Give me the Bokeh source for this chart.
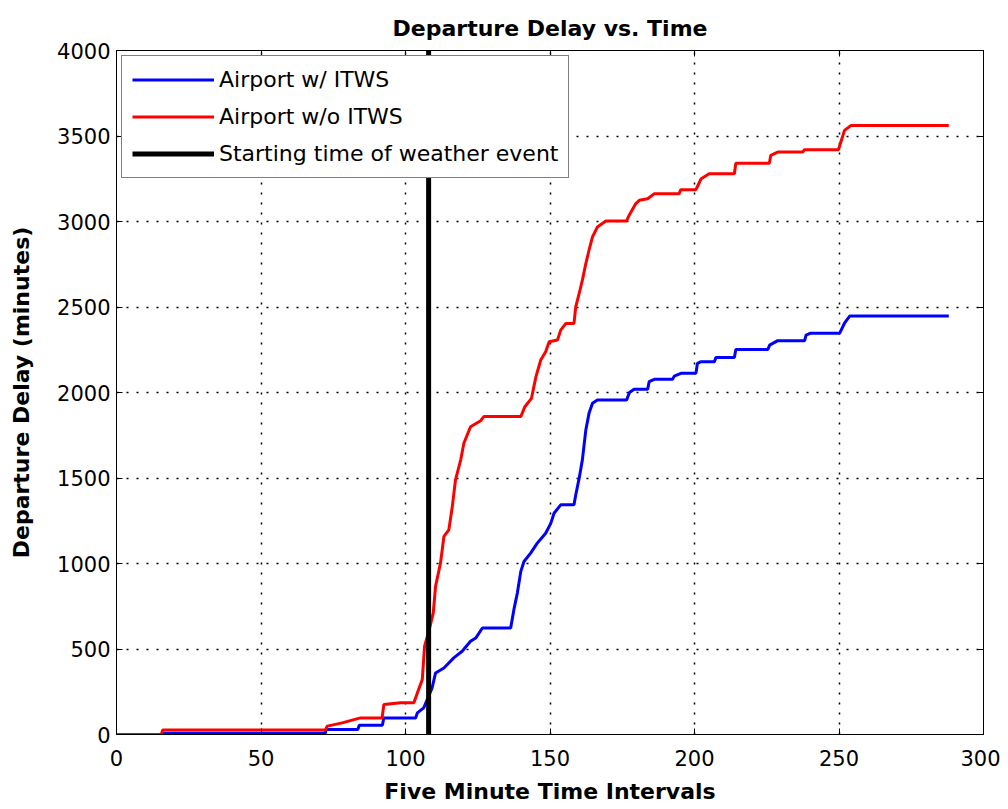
from bokeh.plotting import figure
from bokeh.models import LinearAxis, Range1d, FixedTicker, Legend, LegendItem, Title
from bokeh.embed import file_html
from bokeh.resources import INLINE

# ---- data ----
blue_t = [0, 16, 16.5, 72.3, 72.5, 83.5, 84, 92, 92.5, 103.5, 104.1, 106.3, 107.5,
          109.2, 110.4, 113.3, 116.7, 119.6, 122.5, 124.3, 126.6, 136.4, 137.5, 138.7,
          139.9, 141, 143.3, 145.6, 148.5, 150.3, 151.4, 153.7, 158.3, 158.9, 160.1,
          161.2, 162.4, 163.5, 164.7, 166.4, 176.5, 177.5, 179.1, 183.8, 184.3, 186.1,
          192.4, 193, 195.3, 200.5, 201, 202.3, 206.9, 207.4, 213.8, 214.3, 225.4, 226,
          228.8, 238.1, 238.6, 240, 250.2, 251.9, 253.7, 288]
blue_v = [0, 0, 8, 8, 29, 29, 54, 54, 97, 97, 126, 156, 204,
          272, 360, 389, 448, 487, 545, 564, 623, 623, 730, 827,
          954, 1012, 1061, 1119, 1177, 1236, 1294, 1343, 1343, 1401, 1499,
          1606, 1781, 1878, 1937, 1956, 1956, 2000, 2019, 2019, 2063, 2077,
          2077, 2096, 2112, 2112, 2170, 2180, 2180, 2205, 2205, 2252, 2252, 2277,
          2303, 2303, 2335, 2346, 2346, 2405, 2447, 2447]

red_t = [0, 15.5, 16, 72.3, 72.9, 78.1, 84.4, 91.9, 92.5, 98.3, 102.9, 104.1, 105.8,
         106.6, 108, 109.6, 110.4, 112.1, 113.3, 115, 116.2, 117.3, 119.1, 120.2, 122.5,
         126, 127.1, 139.9, 141.3, 143.6, 145.1, 146.8, 148.5, 149.7, 152.6, 153.7,
         155.5, 158.3, 158.9, 160.1, 161.2, 162.4, 163.5, 164.7, 166.4, 169.3, 176.5,
         177.4, 179.7, 180.9, 183.8, 186.1, 194.7, 195.2, 200.5, 202.3, 205.1, 213.8,
         214.3, 225.9, 226.4, 228.8, 237.5, 238, 249.8, 251.9, 254.2, 288]
red_v = [0, 0, 27, 27, 49, 68, 97, 97, 175, 185, 185, 243, 321,
         516, 600, 710, 866, 1002, 1158, 1197, 1333, 1489, 1606, 1703, 1800,
         1835, 1859, 1859, 1917, 1966, 2090, 2190, 2238, 2297, 2307, 2365,
         2404, 2404, 2501, 2579, 2657, 2754, 2832, 2910, 2968, 3003, 3003,
         3037, 3105, 3124, 3133, 3163, 3163, 3186, 3186, 3250, 3279, 3279,
         3341, 3341, 3387, 3406, 3406, 3420, 3420, 3533, 3562, 3562]

event_time = 108
x_ticks = [0, 50, 100, 150, 200, 250, 300]
y_ticks = [0, 500, 1000, 1500, 2000, 2500, 3000, 3500, 4000]
x_min, x_max = 0, 300
y_min, y_max = 0, 4000

FONT = "DejaVu Sans"

p = figure(width=1000, height=806, output_backend="svg", toolbar_location=None,
           x_range=Range1d(x_min, x_max), y_range=Range1d(y_min, y_max),
           min_border_left=116, min_border_right=17, min_border_top=50, min_border_bottom=71)
p.background_fill_color = "white"
p.border_fill_color = "white"
p.outline_line_color = "black"
p.outline_line_width = 1
p.outline_line_alpha = 1

for ax, ticks in ((p.xaxis[0], x_ticks), (p.yaxis[0], y_ticks)):
    ax.ticker = FixedTicker(ticks=ticks)
    ax.major_tick_in = 6
    ax.major_tick_out = 0
    ax.minor_tick_line_color = None
    ax.major_label_text_font = FONT
    ax.major_label_text_font_size = "21px"
    ax.major_label_text_color = "black"
    ax.axis_line_color = "black"
    ax.major_tick_line_color = "black"
    ax.axis_label_text_font = FONT
    ax.axis_label_text_font_size = "22px"
    ax.axis_label_text_font_style = "bold"
    ax.axis_label_text_color = "black"

p.xaxis.axis_label = "Five Minute Time Intervals"
p.yaxis.axis_label = "Departure Delay (minutes)"
p.xaxis.major_label_standoff = 15
p.yaxis.major_label_standoff = 6
p.xaxis.axis_label_standoff = 10
p.yaxis.axis_label_standoff = 20

for loc, ticks in (("above", x_ticks), ("right", y_ticks)):
    ax = LinearAxis(ticker=FixedTicker(ticks=ticks), major_tick_in=6, major_tick_out=0,
                    minor_tick_line_color=None, major_label_text_font_size="0px",
                    major_label_overrides={t: "" for t in ticks},
                    major_label_standoff=0, axis_line_color="black")
    p.add_layout(ax, loc)

p.add_layout(Title(text="Departure Delay vs. Time", align="center", text_font=FONT,
                   text_font_size="22px", text_font_style="bold", text_color="black",
                   text_line_height=0.6, standoff=20), "above")

p.xgrid.ticker = FixedTicker(ticks=x_ticks)
p.ygrid.ticker = FixedTicker(ticks=y_ticks)
for g in (p.xgrid[0], p.ygrid[0]):
    g.grid_line_color = "black"
    g.grid_line_dash = "2 8"
    g.grid_line_width = 1.5
    g.grid_line_alpha = 1

r_blue = p.line(blue_t, blue_v, line_color="#0000ff", line_width=3)
r_red = p.line(red_t, red_v, line_color="#ff0000", line_width=3)
r_evt = p.line([event_time, event_time], [y_min, y_max], line_color="black", line_width=5)

legend = Legend(items=[
    LegendItem(label="Airport w/ ITWS", renderers=[r_blue]),
    LegendItem(label="Airport w/o ITWS", renderers=[r_red]),
    LegendItem(label="Starting time of weather event", renderers=[r_evt]),
], location="top_left")
legend.margin = 5
legend.padding = 10
legend.spacing = 10
legend.glyph_width = 82
legend.glyph_height = 27
legend.label_height = 27
legend.label_standoff = 5
legend.label_text_font = FONT
legend.label_text_font_size = "22px"
legend.label_text_color = "black"
legend.border_line_color = "black"
legend.border_line_width = 1
legend.background_fill_color = "white"
legend.background_fill_alpha = 1
p.add_layout(legend, "center")

open("out.html", "w").write(file_html(p, INLINE))
